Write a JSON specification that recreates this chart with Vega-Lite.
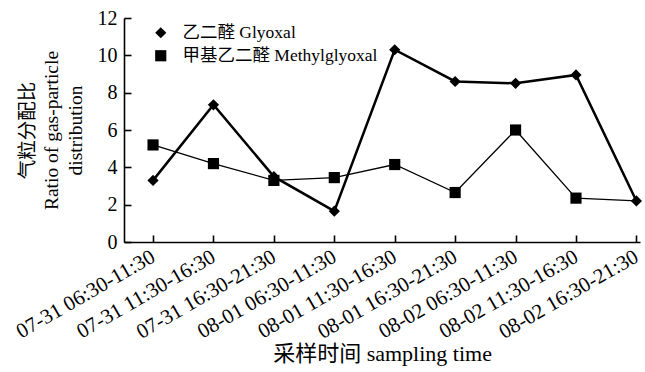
{
  "$schema": "https://vega.github.io/schema/vega-lite/v6.json",
  "width": 516,
  "height": 224,
  "autosize": {"type": "none"},
  "padding": {"left": 124, "top": 18, "right": 5, "bottom": 130},
  "background": "white",
  "config": {
    "view": {"stroke": null},
    "font": "Liberation Serif, Noto Sans CJK SC",
    "axis": {"grid": false, "domainColor": "black", "tickColor": "black", "labelColor": "black", "titleColor": "black", "domainWidth": 1.6, "tickWidth": 1.6, "labelFont": "Liberation Serif", "titleFont": "Liberation Serif, Noto Sans CJK SC", "titleFontWeight": "normal"}
  },
  "data": {"values": [
    {"time": "07-31 06:30-11:30", "series": "乙二醛 Glyoxal", "ratio": 3.3},
    {"time": "07-31 11:30-16:30", "series": "乙二醛 Glyoxal", "ratio": 7.35},
    {"time": "07-31 16:30-21:30", "series": "乙二醛 Glyoxal", "ratio": 3.5},
    {"time": "08-01 06:30-11:30", "series": "乙二醛 Glyoxal", "ratio": 1.65},
    {"time": "08-01 11:30-16:30", "series": "乙二醛 Glyoxal", "ratio": 10.3},
    {"time": "08-01 16:30-21:30", "series": "乙二醛 Glyoxal", "ratio": 8.6},
    {"time": "08-02 06:30-11:30", "series": "乙二醛 Glyoxal", "ratio": 8.5},
    {"time": "08-02 11:30-16:30", "series": "乙二醛 Glyoxal", "ratio": 8.95},
    {"time": "08-02 16:30-21:30", "series": "乙二醛 Glyoxal", "ratio": 2.2},
    {"time": "07-31 06:30-11:30", "series": "甲基乙二醛 Methylglyoxal", "ratio": 5.2},
    {"time": "07-31 11:30-16:30", "series": "甲基乙二醛 Methylglyoxal", "ratio": 4.2},
    {"time": "07-31 16:30-21:30", "series": "甲基乙二醛 Methylglyoxal", "ratio": 3.3},
    {"time": "08-01 06:30-11:30", "series": "甲基乙二醛 Methylglyoxal", "ratio": 3.45},
    {"time": "08-01 11:30-16:30", "series": "甲基乙二醛 Methylglyoxal", "ratio": 4.15},
    {"time": "08-01 16:30-21:30", "series": "甲基乙二醛 Methylglyoxal", "ratio": 2.65},
    {"time": "08-02 06:30-11:30", "series": "甲基乙二醛 Methylglyoxal", "ratio": 6.0},
    {"time": "08-02 11:30-16:30", "series": "甲基乙二醛 Methylglyoxal", "ratio": 2.35},
    {"time": "08-02 16:30-21:30", "series": "甲基乙二醛 Methylglyoxal", "ratio": 2.2}
  ]},
  "encoding": {
    "x": {
      "field": "time", "type": "ordinal",
      "scale": {"type": "point", "padding": 0.27, "align": 0.89,
        "domain": ["07-31 06:30-11:30", "07-31 11:30-16:30", "07-31 16:30-21:30", "08-01 06:30-11:30", "08-01 11:30-16:30", "08-01 16:30-21:30", "08-02 06:30-11:30", "08-02 11:30-16:30", "08-02 16:30-21:30"]},
      "axis": {"title": "采样时间 sampling time", "titleFontSize": 22, "titlePadding": 1, "labelAngle": -30, "labelAlign": "right", "labelBaseline": "middle", "labelFontSize": 21, "labelPadding": 20, "tickSize": -7, "labelOverlap": false}
    },
    "y": {
      "field": "ratio", "type": "quantitative",
      "scale": {"domain": [0, 12], "nice": false},
      "axis": {"values": [0, 2, 4, 6, 8, 10, 12], "title": ["气粒分配比", "Ratio of gas-particle", "distribution"], "titleFontSize": 19.5, "titleLineHeight": 24, "titlePadding": 12, "labelFontSize": 20, "labelPadding": 14, "tickSize": -7}
    }
  },
  "layer": [
    {
      "mark": {"type": "line", "color": "black"},
      "encoding": {
        "detail": {"field": "series"},
        "strokeWidth": {"condition": {"test": "datum.series == '乙二醛 Glyoxal'", "value": 2.5}, "value": 1.3}
      }
    },
    {
      "transform": [{"filter": "datum.series != '甲基乙二醛 Methylglyoxal' || datum.time != '08-02 16:30-21:30'"}],
      "mark": {"type": "point", "filled": true, "color": "black", "opacity": 1, "size": 125},
      "encoding": {
        "shape": {"field": "series", "type": "nominal", "scale": {"domain": ["乙二醛 Glyoxal", "甲基乙二醛 Methylglyoxal"], "range": ["diamond", "square"]},
          "legend": {"title": null, "orient": "none", "legendX": 28, "legendY": 6, "padding": 0, "labelFontSize": 17.5, "labelLimit": 0, "labelColor": "black", "labelFont": "Liberation Serif, Noto Sans CJK SC", "labelOffset": 13, "rowPadding": 4, "symbolSize": 125, "symbolFillColor": "black", "symbolStrokeColor": "black", "symbolOpacity": 1}}
      }
    }
  ]
}
